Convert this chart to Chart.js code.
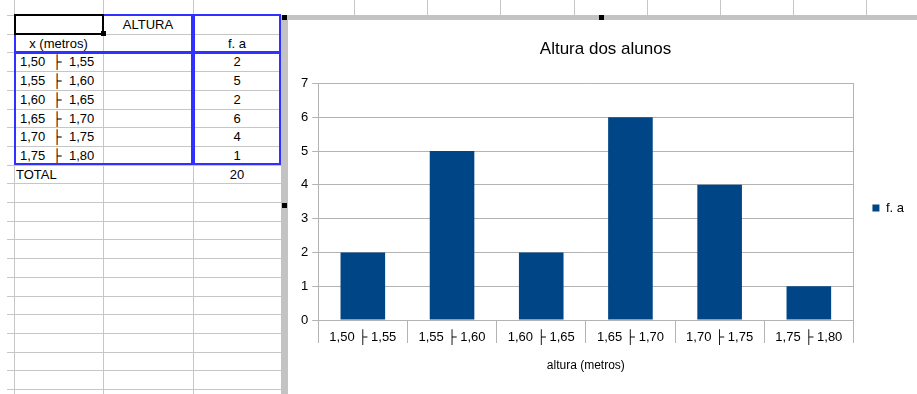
<!DOCTYPE html>
<html>
<head>
<meta charset="utf-8">
<script src="https://cdn.jsdelivr.net/npm/chart.js@4/dist/chart.umd.min.js"></script>
<style>
body{margin:0;width:917px;height:394px;overflow:hidden;background:#fff;position:relative;font-family:"Liberation Sans",Arial,sans-serif}
.hl{position:absolute;height:1px;background:#c6c6c6}
.vl{position:absolute;width:1px;background:#c6c6c6}
.cell{position:absolute;font-size:13px;color:#000;white-space:pre;height:19px;line-height:19px}
.box{position:absolute;box-sizing:border-box;border:2px solid #3030ff}
.sq{position:absolute;width:5px;height:5px;background:#000}
#frame_v{position:absolute;left:281px;top:15px;width:7px;height:379px;background:#c3c3c3}
#frame_h{position:absolute;left:281px;top:15px;width:636px;height:5px;background:#c3c3c3}
#chart_wrap{position:absolute;left:288px;top:20px;width:629px;height:374px;background:#fff}
</style>
</head>
<body>
<div id="sheet"></div>
<div id="frame_v"></div>
<div id="frame_h"></div>
<div id="chart_wrap"><canvas id="altura_chart" width="629" height="374"></canvas></div>
<script>
// data read from the sheet / chart
const categories  = ['1,50 ├ 1,55', '1,55 ├ 1,60', '1,60 ├ 1,65', '1,65 ├ 1,70', '1,70 ├ 1,75', '1,75 ├ 1,80']
const freq_values = [2, 5, 2, 6, 4, 1]
const series_name = 'f. a'
const table_title = 'ALTURA'
const class_header = 'x (metros)'
const total_label = 'TOTAL'
const chart_title = 'Altura dos alunos'
const x_title     = 'altura (metros)'
const y_max       = 7

const bar_color  = '#004586'
const grid_color = '#b3b3b3'

// ---------- spreadsheet part ----------
const sheet = document.getElementById('sheet')
const row_h = 18.7
const row_top = k => 15 + row_h * k

function add(cls, style, text){
  const d = document.createElement('div')
  d.className = cls
  Object.assign(d.style, style)
  if (text !== undefined) d.textContent = text
  sheet.appendChild(d)
  return d
}

for (let k = -1; k <= 21; k++){
  add('hl', {left: '7px', width: '274px', top: Math.round(row_top(k)) + 'px'})
}
[14, 103, 193].forEach(x => add('vl', {left: x + 'px', top: '0px', height: '394px'}))
for (let i = 0; i < 8; i++){
  add('vl', {left: Math.round(354 + 73.2 * i) + 'px', top: '0px', height: '15px'})
}

const col_a = {left: 14, width: 89}
const col_b = {left: 103, width: 90}
const col_c = {left: 193, width: 88}

function cell(col, k, text, align, indent){
  add('cell', {
    left: (col.left + (indent || 0)) + 'px',
    width: (col.width - (indent || 0)) + 'px',
    top: Math.round(row_top(k)) + 'px',
    textAlign: align
  }, text)
}

cell(col_b, 0, table_title, 'center')
cell(col_a, 1, class_header, 'center')
cell(col_c, 1, series_name, 'center')
categories.forEach((c, i) => {
  cell(col_a, 2 + i, c.replace(' ├ ', '  ├  '), 'left', 6)
  cell(col_c, 2 + i, String(freq_values[i]), 'center')
})
cell(col_a, 2 + categories.length, total_label, 'left', 2)
cell(col_c, 2 + categories.length, String(freq_values.reduce((a, b) => a + b, 0)), 'center')

// blue borders round the data blocks
add('box', {left: '14px', top: '14px', width: '179px', height: '39px'})
add('box', {left: '193px', top: '14px', width: '88px', height: '39px'})
add('box', {left: '14px', top: '52px', width: '179px', height: '113px'})
add('box', {left: '193px', top: '52px', width: '88px', height: '113px'})
// selected cell A1
add('box', {left: '14px', top: '14px', width: '90px', height: '21px', borderColor: '#000'})
add('sq', {left: '101px', top: '31px'})

// chart frame handles
document.body.insertAdjacentHTML('beforeend',
  '<div class="sq" style="left:282px;top:15px"></div>' +
  '<div class="sq" style="left:599px;top:15px"></div>' +
  '<div class="sq" style="left:282px;top:203px"></div>')

// ---------- chart ----------
const ctx = document.getElementById('altura_chart').getContext('2d')

new Chart(ctx, {
  type: 'bar',
  data: {
    labels: categories,
    datasets: [{
      label: series_name,
      data: freq_values,
      backgroundColor: bar_color,
      borderWidth: 0,
      categoryPercentage: 1,
      barPercentage: 0.5
    }]
  },
  options: {
    responsive: false,
    animation: false,
    layout: {padding: {left: 9, right: 3, top: 0, bottom: 17}},
    plugins: {
      title: {
        display: true,
        text: chart_title,
        color: '#000',
        font: {family: 'Liberation Sans', size: 17, weight: 'normal'},
        padding: {top: 19, bottom: 24}
      },
      legend: {
        position: 'right',
        // empty legend title only pushes the entry down a bit
        title: {display: true, text: ' ', font: {size: 1}, padding: {top: 18, bottom: 0}},
        labels: {
          color: '#000',
          font: {family: 'Liberation Sans', size: 13},
          boxWidth: 7,
          boxHeight: 7,
          padding: 10
        }
      },
      tooltip: {enabled: false}
    },
    scales: {
      x: {
        grid: {
          offset: true,
          drawOnChartArea: false,
          color: grid_color,
          tickLength: 23
        },
        border: {color: grid_color},
        ticks: {
          color: '#000',
          padding: -13,
          maxRotation: 0,
          font: {family: 'Liberation Sans', size: 13}
        },
        title: {
          display: true,
          text: x_title,
          color: '#000',
          font: {family: 'Liberation Sans', size: 12},
          padding: {top: 26, bottom: 4}
        }
      },
      y: {
        min: 0,
        max: y_max,
        grid: {color: grid_color, tickLength: 6},
        border: {color: grid_color},
        ticks: {
          stepSize: 1,
          padding: 4,
          color: '#000',
          font: {family: 'Liberation Sans', size: 13}
        }
      },
      y_right: {
        position: 'right',
        min: 0,
        max: y_max,
        grid: {drawOnChartArea: false, color: 'rgba(0,0,0,0)', tickLength: 9},
        border: {color: grid_color},
        ticks: {display: false}
      }
    }
  }
})
</script>
</body>
</html>
